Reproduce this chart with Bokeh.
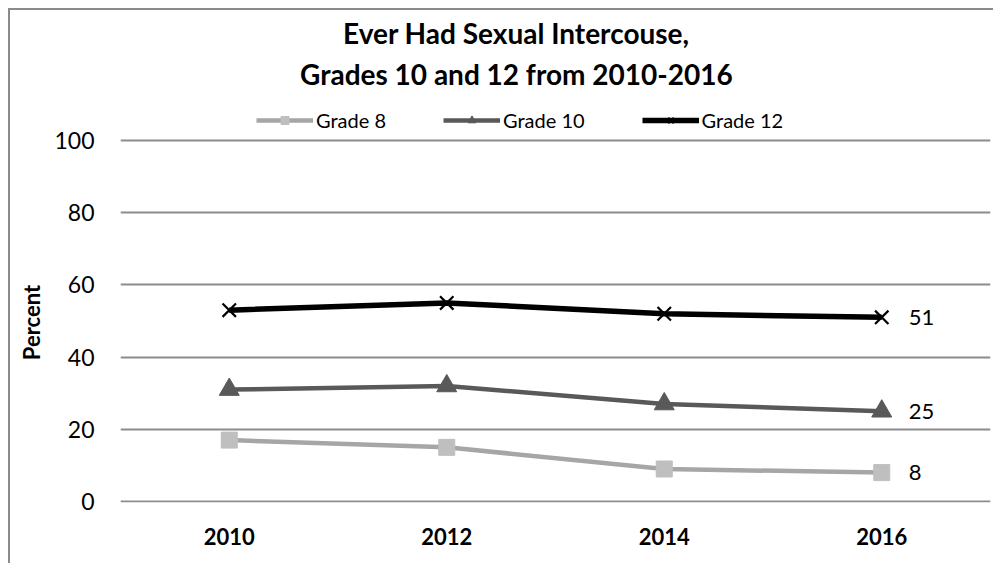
from bokeh.plotting import figure
from bokeh.models import Range1d, FactorRange, Legend, LegendItem, Label, ColumnDataSource
from bokeh.core.properties import value
from bokeh.embed import file_html
from bokeh.resources import INLINE

years = ["2010", "2012", "2014", "2016"]
grade8 = [17, 15, 9, 8]
grade10 = [31, 32, 27, 25]
grade12 = [53, 55, 52, 51]
series_names = ["Grade 8", "Grade 10", "Grade 12"]
end_labels = ["8", "25", "51"]
y_ticks = [0, 20, 40, 60, 80, 100]
title_lines = ["Ever Had Sexual Intercouse,", "Grades 10 and 12 from 2010-2016"]

FONT = "Lato"
GRID = "#8c8c8c"

# the plot area reaches up to the chart's top so that title and legend sit inside it;
# only 0-100 carries ticks and grid lines
p = figure(width=985, height=555, x_range=FactorRange(*years), y_range=Range1d(-0.28, 136.0),
           output_backend="svg", toolbar_location=None,
           min_border_left=110, min_border_right=5, min_border_top=0, min_border_bottom=63)
p.styles = {"margin-left": "8px", "margin-top": "8px",
            "border-left": "2px solid #8a8a8a", "border-top": "2px solid #8a8a8a"}
p.outline_line_color = None
p.background_fill_color = "white"
p.border_fill_color = "white"

p.xgrid.grid_line_color = None
p.ygrid.grid_line_color = GRID
p.ygrid.grid_line_width = 2

p.yaxis.ticker = y_ticks
p.yaxis.axis_line_color = None
p.yaxis.major_tick_line_color = None
p.yaxis.minor_tick_line_color = None
p.yaxis.major_label_text_font = FONT
p.yaxis.major_label_text_font_size = "23px"
p.yaxis.major_label_text_color = "black"
p.yaxis.major_label_standoff = 20
# trailing em spaces keep "Percent" centred on the 0-100 part of the axis
p.yaxis.axis_label = "Percent" + "\u2003" * 8
p.yaxis.axis_label_text_font = FONT
p.yaxis.axis_label_text_font_size = "22px"
p.yaxis.axis_label_text_font_style = "bold"
p.yaxis.axis_label_text_color = "black"
p.yaxis.axis_label_standoff = 6

p.xaxis.axis_line_color = None
p.xaxis.major_tick_line_color = None
p.xaxis.minor_tick_line_color = None
p.xaxis.major_label_text_font = FONT
p.xaxis.major_label_text_font_size = "22px"
p.xaxis.major_label_text_font_style = "bold"
p.xaxis.major_label_text_color = "black"
p.xaxis.major_label_standoff = 19

styles = [
    dict(y=grade8, line="#a6a6a6", fill="#bfbfbf", marker="square", size=16, lw=4.5),
    dict(y=grade10, line="#595959", fill="#595959", marker="triangle", size=20, lw=4.5),
    dict(y=grade12, line="#000000", fill="#000000", marker="x", size=19, lw=5.5),
]

items = []
for name, st in zip(series_names, styles):
    src = ColumnDataSource(dict(x=years, y=st["y"]))
    r_line = p.line("x", "y", source=src, line_color=st["line"], line_width=st["lw"])
    if st["marker"] == "x":
        r_mark = p.scatter("x", "y", source=src, marker="x", size=st["size"],
                           line_color=st["fill"], line_width=2.2)
    else:
        r_mark = p.scatter("x", "y", source=src, marker=st["marker"], size=st["size"],
                           fill_color=st["fill"], line_color=st["fill"])
    items.append(LegendItem(label=name, renderers=[r_line, r_mark]))

lab_src = ColumnDataSource(dict(x=[years[-1]] * 3,
                                y=[grade8[-1], grade10[-1], grade12[-1]],
                                t=end_labels))
p.text("x", "y", text="t", source=lab_src, x_offset=27, text_baseline="middle",
       text_align="left", text_font=value(FONT), text_font_size="22px", text_color="black")

legend = Legend(items=items, orientation="horizontal", location=(136, 370),
                glyph_width=57, glyph_height=20, label_height=24, label_standoff=3,
                spacing=57, padding=0, margin=0, border_line_color=None,
                background_fill_alpha=0, label_text_font=FONT, label_text_font_size="20px",
                label_text_color="black")
p.add_layout(legend, "center")

for line, ty in zip(title_lines, [129.9, 118.3]):
    p.add_layout(Label(x=1.82, y=ty, text=line, text_align="center",
                       text_baseline="alphabetic", text_font=FONT, text_font_size="28px",
                       text_font_style="bold", text_color="black"))

open("out.html", "w").write(file_html(p, INLINE))
